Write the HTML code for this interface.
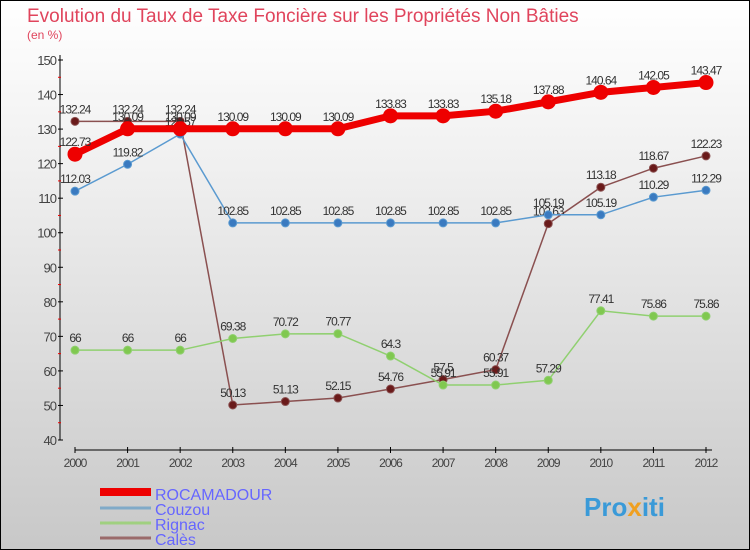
<!DOCTYPE html>
<html><head><meta charset="utf-8"><style>
body{margin:0}
#c{width:750px;height:550px;position:relative;box-sizing:border-box;border:1px solid #000;background:linear-gradient(#fff,#f0f0f0 30%,#c8c8c8);font-family:"Liberation Sans",sans-serif;overflow:hidden}
</style></head><body>
<div id="c">
<svg id="s" width="750" height="550" style="position:absolute;left:-1px;top:-1px">
<text x="27" y="22" font-size="19" fill="#e0445c">Evolution du Taux de Taxe Foncière sur les Propriétés Non Bâties</text>
<text x="27" y="39" font-size="12" fill="#e0445c">(en %)</text>
<g id="axes"></g><g id="series"></g>
<g>
<line x1="100" y1="492" x2="151" y2="492" stroke="#e00" stroke-width="8"/>
<text x="155" y="500" font-size="16" fill="#6666ff">ROCAMADOUR</text>
<line x1="100" y1="508" x2="151" y2="508" stroke="#80aac8" stroke-width="3"/>
<text x="155" y="515" font-size="16" fill="#6666ff">Couzou</text>
<line x1="100" y1="523" x2="151" y2="523" stroke="#a0d080" stroke-width="3"/>
<text x="155" y="530" font-size="16" fill="#6666ff">Rignac</text>
<line x1="100" y1="538" x2="151" y2="538" stroke="#9a6a6a" stroke-width="3"/>
<text x="155" y="545" font-size="16" fill="#6666ff">Calès</text>
</g>
<text x="584" y="516" font-size="26" font-weight="bold" fill="#3a9ad8">Pro<tspan fill="#f0a020">x</tspan>iti</text>
</svg></div>
<script>
const years=["2000","2001","2002","2003","2004","2005","2006","2007","2008","2009","2010","2011","2012"];
const yTicks=[40,50,60,70,80,90,100,110,120,130,140,150];
const rocamadour=[122.73,130.09,130.09,130.09,130.09,130.09,133.83,133.83,135.18,137.88,140.64,142.05,143.47];
const couzou=[112.03,119.82,128.57,102.85,102.85,102.85,102.85,102.85,102.85,105.19,105.19,110.29,112.29];
const rignac=[66,66,66,69.38,70.72,70.77,64.3,55.91,55.91,57.29,77.41,75.86,75.86];
const cales=[132.24,132.24,132.24,50.13,51.13,52.15,54.76,57.5,60.37,102.63,113.18,118.67,122.23];
const NS="http://www.w3.org/2000/svg";
const x=i=>75+i*(706-75)/(years.length-1);
const y=v=>440-(v-40)*(380/110);
function mk(tag,attrs,parent){const e=document.createElementNS(NS,tag);for(const k in attrs)e.setAttribute(k,attrs[k]);parent.appendChild(e);return e;}
const ax=document.getElementById('axes');
let yl=mk('line',{x1:60,y1:55,x2:60,y2:440,stroke:'#000','stroke-width':1},ax);


yTicks.forEach(v=>{
 mk('line',{x1:58,y1:y(v),x2:63,y2:y(v),stroke:'#000'},ax);
 if(v<150)mk('line',{x1:58,y1:y(v+5),x2:61,y2:y(v+5),stroke:'#e00'},ax);
 const t=mk('text',{x:56,y:y(v)+5,'text-anchor':'end','font-size':13,fill:'#444','letter-spacing':'-1'},ax);
 t.textContent=v;
 
 
});
let xl=mk('line',{x1:75,y1:450,x2:712,y2:450,stroke:'#000'},ax);


years.forEach((yr,i)=>{
 mk('line',{x1:x(i),y1:447,x2:x(i),y2:453,stroke:'#000'},ax);
 const t=mk('text',{x:x(i),y:467,'text-anchor':'middle','font-size':12,fill:'#444','letter-spacing':'-1'},ax);
 t.textContent=yr;
 
 
});
const sg=document.getElementById('series');
function draw(name,vals,color,w,r,dot){
 const g=mk('g',{},sg);
 
 
 mk('polyline',{points:vals.map((v,i)=>x(i)+','+y(v)).join(' '),fill:'none',stroke:color,'stroke-width':w},g);
 vals.forEach((v,i)=>{
  const c=mk('circle',{cx:x(i),cy:y(v),r:r,fill:dot,stroke:color,'stroke-width':1},g);
  
  
  const t=mk('text',{x:x(i),y:y(v)-8,'text-anchor':'middle','font-size':12,fill:'#333','letter-spacing':'-1'},g);
  t.textContent=String(v).replace('.',',').replace(',','.');
  
  
 });
}
draw('cales',cales,'#8a5050',1.5,4,'#6a1a1a');
draw('rignac',rignac,'#90d070',1.5,4,'#80c850');
draw('couzou',couzou,'#5a9ad0',1.5,4,'#3a7ac0');
draw('rocamadour',rocamadour,'#e00',7,7,'#e00');
</script>
</body></html>
